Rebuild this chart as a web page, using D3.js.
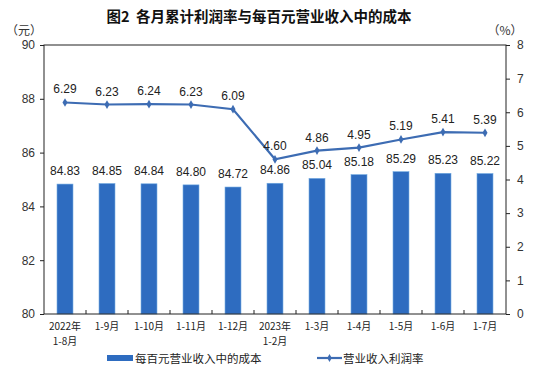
<!DOCTYPE html>
<html><head><meta charset="utf-8">
<script src="https://cdn.jsdelivr.net/npm/d3@7"></script>
<style>body{margin:0;background:#fff}svg{display:block}</style>
</head><body><svg id="c" width="545" height="381"></svg>
<script>
const categories = [["2022年","1-8月"],["1-9月"],["1-10月"],["1-11月"],["1-12月"],["2023年","1-2月"],["1-3月"],["1-4月"],["1-5月"],["1-6月"],["1-7月"]];
const costValues = [84.83,84.85,84.84,84.80,84.72,84.86,85.04,85.18,85.29,85.23,85.22];
const marginValues = [6.29,6.23,6.24,6.23,6.09,4.60,4.86,4.95,5.19,5.41,5.39];
const leftTicks = [80,82,84,86,88,90];
const rightTicks = [0,1,2,3,4,5,6,7,8];
const title = "图2  各月累计利润率与每百元营业收入中的成本";
const seriesNames = ["每百元营业收入中的成本","营业收入利润率"];

const svg = d3.select("#c");
const font = "'Liberation Sans', 'Noto Sans CJK SC', sans-serif";
const cjk = "'Noto Sans CJK SC', sans-serif";
const L=44,R=506,T=45,B=314;
const barColor="#2e6cc0", lineColor="#3d6cb3";
const idx = d3.range(categories.length);
const x = d3.scaleBand().domain(idx).range([L,R]).paddingInner(0.62).paddingOuter(0.31);
const xb = d3.scaleBand().domain(idx).range([L,R]);
const yL = d3.scaleLinear().domain([80,90]).range([B,T]);
const yR = d3.scaleLinear().domain([0,8]).range([B,T]);

svg.append("text").attr("x",259).attr("y",22).attr("text-anchor","middle").style("white-space","pre")
  .attr("font-family",cjk).attr("font-size",14.5).attr("font-weight","bold").attr("fill","#111").text(title);
svg.append("text").attr("x",24).attr("y",35).attr("text-anchor","middle").attr("font-family",cjk).attr("font-size",12).attr("fill","#333").text("（元）");
svg.append("text").attr("x",505).attr("y",35).attr("text-anchor","middle").attr("font-family",cjk).attr("font-size",12).attr("fill","#333").text("（%）");

// bars
svg.append("g").selectAll("rect").data(costValues).join("rect")
  .attr("x",(d,i)=>x(i)).attr("width",x.bandwidth())
  .attr("y",d=>yL(d)).attr("height",d=>B-yL(d)).attr("fill",barColor)
  .attr("stroke","#6fa8e0").attr("stroke-width",0.6);
svg.append("g").selectAll("text").data(costValues).join("text")
  .attr("x",(d,i)=>x(i)+x.bandwidth()/2).attr("y",d=>yL(d)-9)
  .attr("text-anchor","middle").attr("font-family",font).attr("font-size",12).attr("fill","#222")
  .text(d=>d.toFixed(2));

// axes
const gl = svg.append("g").attr("transform",`translate(${L},0)`)
  .call(d3.axisLeft(yL).tickValues(leftTicks).tickSize(4).tickPadding(5).tickFormat(d3.format("d")));
const gr = svg.append("g").attr("transform",`translate(${R},0)`)
  .call(d3.axisRight(yR).tickValues(rightTicks).tickSize(4).tickPadding(7).tickFormat(d3.format("d")));
[gl,gr].forEach(g=>{g.select(".domain").remove();g.selectAll("line").attr("stroke","#222");
  g.selectAll("text").attr("font-family",font).attr("font-size",12).attr("fill","#333");});
svg.append("rect").attr("x",L).attr("y",T).attr("width",R-L).attr("height",B-T)
  .attr("fill","none").attr("stroke","#222").attr("stroke-width",1);
// bottom inner ticks at category boundaries
svg.append("g").selectAll("line").data(idx.slice(1)).join("line")
  .attr("x1",i=>xb(i)).attr("x2",i=>xb(i)).attr("y1",B).attr("y2",B-4).attr("stroke","#222");
// category labels
const cl = svg.append("g").selectAll("text").data(categories).join("text")
  .attr("x",(d,i)=>xb(i)+xb.bandwidth()/2).attr("y",330)
  .attr("text-anchor","middle").attr("font-family",cjk).attr("font-size",10).attr("fill","#222");
cl.each(function(d){const t=d3.select(this);d.forEach((s,k)=>t.append("tspan").attr("x",t.attr("x")).attr("dy",k?15:0).text(s));});

// line
const line = d3.line().x((d,i)=>xb(i)+xb.bandwidth()/2).y(d=>yR(d));
svg.append("path").datum(marginValues).attr("d",line).attr("fill","none").attr("stroke",lineColor).attr("stroke-width",2.2);
svg.append("g").selectAll("path").data(marginValues).join("path")
  .attr("transform",(d,i)=>`translate(${xb(i)+xb.bandwidth()/2},${yR(d)})`)
  .attr("d",d3.symbol(d3.symbolDiamond,22)).attr("fill",lineColor);
svg.append("g").selectAll("text").data(marginValues).join("text")
  .attr("x",(d,i)=>xb(i)+xb.bandwidth()/2).attr("y",d=>yR(d)-9)
  .attr("text-anchor","middle").attr("font-family",font).attr("font-size",12).attr("fill","#222")
  .text(d=>d.toFixed(2));

// legend
const lg = svg.append("g");
lg.append("rect").attr("x",107).attr("y",355).attr("width",26).attr("height",6).attr("fill",barColor);
lg.append("text").attr("x",135).attr("y",363).attr("font-family",cjk).attr("font-size",11.5).attr("fill","#222").text(seriesNames[0]);
lg.append("line").attr("x1",317).attr("x2",342).attr("y1",358).attr("y2",358).attr("stroke",lineColor).attr("stroke-width",2.2);
lg.append("path").attr("transform","translate(329.5,358)").attr("d",d3.symbol(d3.symbolDiamond,18)).attr("fill",lineColor);
lg.append("text").attr("x",343).attr("y",363).attr("font-family",cjk).attr("font-size",11.5).attr("fill","#222").text(seriesNames[1]);
</script></body></html>
